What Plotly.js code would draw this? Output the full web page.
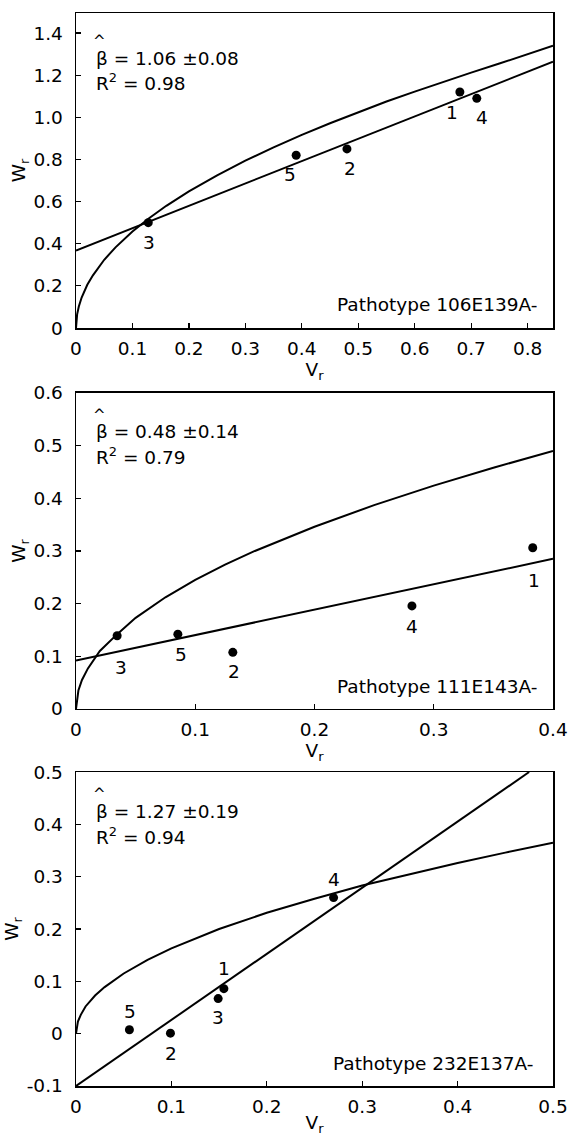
<!DOCTYPE html>
<html>
<head>
<meta charset="utf-8">
<script src="https://cdn.plot.ly/plotly-3.0.1.min.js"></script>
<style>html,body{margin:0;padding:0;background:#fff;}#chart{width:571px;height:1137px;}</style>
</head>
<body>
<div id="chart"></div>
<script>
// ---------- Panel 1: Pathotype 106E139A- ----------
const p1Labels = ['1', '2', '3', '4', '5'];
const p1V = [0.68, 0.48, 0.128, 0.71, 0.39];
const p1W = [1.12, 0.85, 0.50, 1.09, 0.82];
const p1LineV = [0, 0.845];
const p1LineW = [0.368, 1.264];
const p1CurveV = [0, 0.002, 0.005, 0.01, 0.02, 0.03, 0.05, 0.07, 0.1, 0.13, 0.16, 0.2, 0.25, 0.3, 0.35, 0.4, 0.45, 0.5, 0.55, 0.6, 0.65, 0.7, 0.75, 0.8, 0.845];
const p1CurveW = [0, 0.065, 0.102, 0.145, 0.205, 0.25, 0.324, 0.383, 0.458, 0.522, 0.58, 0.648, 0.725, 0.794, 0.857, 0.917, 0.972, 1.025, 1.075, 1.122, 1.168, 1.212, 1.255, 1.298, 1.34];
const p1Beta = '1.06 ±0.08';
const p1R2 = '0.98';
const p1Name = 'Pathotype 106E139A-';
const p1XTicks = [0, 0.1, 0.2, 0.3, 0.4, 0.5, 0.6, 0.7, 0.8];
const p1XText = ['0', '0.1', '0.2', '0.3', '0.4', '0.5', '0.6', '0.7', '0.8'];
const p1YTicks = [0, 0.2, 0.4, 0.6, 0.8, 1.0, 1.2, 1.4];
const p1YText = ['0', '0.2', '0.4', '0.6', '0.8', '1.0', '1.2', '1.4'];

// ---------- Panel 2: Pathotype 111E143A- ----------
const p2Labels = ['1', '2', '3', '4', '5'];
const p2V = [0.383, 0.1315, 0.0345, 0.2817, 0.0854];
const p2W = [0.306, 0.1075, 0.139, 0.1956, 0.142];
const p2LineV = [0, 0.4];
const p2LineW = [0.092, 0.285];
const p2CurveV = [0, 0.002, 0.005, 0.01, 0.02, 0.035, 0.05, 0.075, 0.1, 0.125, 0.15, 0.2, 0.25, 0.3, 0.35, 0.4];
const p2CurveW = [0, 0.035, 0.055, 0.077, 0.11, 0.143, 0.173, 0.212, 0.245, 0.274, 0.30, 0.346, 0.387, 0.424, 0.458, 0.49];
const p2Beta = '0.48 ±0.14';
const p2R2 = '0.79';
const p2Name = 'Pathotype 111E143A-';
const p2XTicks = [0, 0.1, 0.2, 0.3, 0.4];
const p2XText = ['0', '0.1', '0.2', '0.3', '0.4'];
const p2YTicks = [0, 0.1, 0.2, 0.3, 0.4, 0.5, 0.6];
const p2YText = ['0', '0.1', '0.2', '0.3', '0.4', '0.5', '0.6'];

// ---------- Panel 3: Pathotype 232E137A- ----------
const p3Labels = ['1', '2', '3', '4', '5'];
const p3V = [0.155, 0.099, 0.149, 0.27, 0.056];
const p3W = [0.086, 0.001, 0.067, 0.26, 0.0075];
const p3LineV = [0, 0.475];
const p3LineW = [-0.1, 0.5];
const p3CurveV = [0, 0.002, 0.005, 0.01, 0.02, 0.03, 0.05, 0.075, 0.1, 0.125, 0.15, 0.2, 0.25, 0.3, 0.35, 0.4, 0.45, 0.5];
const p3CurveW = [0, 0.023, 0.036, 0.052, 0.073, 0.089, 0.115, 0.141, 0.163, 0.182, 0.20, 0.231, 0.258, 0.283, 0.305, 0.326, 0.346, 0.365];
const p3Beta = '1.27 ±0.19';
const p3R2 = '0.94';
const p3Name = 'Pathotype 232E137A-';
const p3XTicks = [0, 0.1, 0.2, 0.3, 0.4, 0.5];
const p3XText = ['0', '0.1', '0.2', '0.3', '0.4', '0.5'];
const p3YTicks = [-0.1, 0, 0.1, 0.2, 0.3, 0.4, 0.5];
const p3YText = ['-0.1', '0', '0.1', '0.2', '0.3', '0.4', '0.5'];

// ---------- styling (pixels) ----------
const FONT = 'DejaVu Sans, Arial, sans-serif';
const FS = 18.5;
const p1Shift = [[-8, -20], [3, -20], [1, -20], [5, -19], [-6, -19]];
const p2Shift = [[1, -33], [1, -19], [4, -32], [0, -21], [3, -20]];
const p3Shift = [[0, 20], [1, -20], [0, -19], [0, 18], [1, 18]];

const panels = [
  {V: p1V, W: p1W, L: p1Labels, lV: p1LineV, lW: p1LineW, cV: p1CurveV, cW: p1CurveW, beta: p1Beta, r2: p1R2, name: p1Name,
   xt: p1XTicks, xtt: p1XText, yt: p1YTicks, ytt: p1YText, xr: [0, 0.845], yr: [0, 1.495], dom: [0.7064, 1], shift: p1Shift,
   betaY: 0.857, r2Y: 0.781, hatY: 0.912, nameY: 0.076, nameX: 0.971},
  {V: p2V, W: p2W, L: p2Labels, lV: p2LineV, lW: p2LineW, cV: p2CurveV, cW: p2CurveW, beta: p2Beta, r2: p2R2, name: p2Name,
   xt: p2XTicks, xtt: p2XText, yt: p2YTicks, ytt: p2YText, xr: [0, 0.4], yr: [0, 0.6], dom: [0.3514, 0.6459], shift: p2Shift,
   betaY: 0.877, r2Y: 0.80, hatY: 0.931, nameY: 0.07, nameX: 0.971},
  {V: p3V, W: p3W, L: p3Labels, lV: p3LineV, lW: p3LineW, cV: p3CurveV, cW: p3CurveW, beta: p3Beta, r2: p3R2, name: p3Name,
   xt: p3XTicks, xtt: p3XText, yt: p3YTicks, ytt: p3YText, xr: [0, 0.5], yr: [-0.1, 0.5], dom: [0, 0.2926], shift: p3Shift,
   betaY: 0.873, r2Y: 0.796, hatY: 0.929, nameY: 0.073, nameX: 0.962}
];

const traces = [];
const annotations = [];
const layout = {
  width: 571, height: 1137,
  margin: {l: 76, r: 18, t: 13, b: 51},
  paper_bgcolor: '#fff', plot_bgcolor: '#fff',
  showlegend: false,
  font: {family: FONT, size: FS, color: '#000'},
  annotations: annotations
};

panels.forEach((p, i) => {
  const n = i + 1;
  const xa = n === 1 ? 'x' : 'x' + n;
  const ya = n === 1 ? 'y' : 'y' + n;
  traces.push({x: p.cV, y: p.cW, xaxis: xa, yaxis: ya, mode: 'lines', type: 'scatter',
    line: {color: '#000', width: 2}, hoverinfo: 'skip'});
  traces.push({x: p.lV, y: p.lW, xaxis: xa, yaxis: ya, mode: 'lines', type: 'scatter',
    line: {color: '#000', width: 2}, hoverinfo: 'skip'});
  traces.push({x: p.V, y: p.W, xaxis: xa, yaxis: ya, mode: 'markers', type: 'scatter',
    marker: {color: '#000', size: 9}, cliponaxis: true});

  const axBase = {
    showline: true, linewidth: 1.5, linecolor: '#000', mirror: true,
    ticks: 'inside', ticklen: 5, tickwidth: 1.2, tickcolor: '#000',
    showgrid: false, zeroline: false, tickmode: 'array',
    tickfont: {family: FONT, size: FS, color: '#000'}, fixedrange: true
  };
  layout['xaxis' + (n === 1 ? '' : n)] = Object.assign({}, axBase, {
    domain: [0, 1], range: p.xr, anchor: ya, tickvals: p.xt, ticktext: p.xtt,
    ticklabelstandoff: 3,
    title: {text: 'V<sub>r</sub>', font: {family: FONT, size: FS, color: '#000'}, standoff: 0}
  });
  layout['yaxis' + (n === 1 ? '' : n)] = Object.assign({}, axBase, {
    domain: p.dom, range: p.yr, anchor: xa, tickvals: p.yt, ticktext: p.ytt,
    ticklabelstandoff: 8,
    title: {text: 'W<sub>r</sub>', font: {family: FONT, size: FS, color: '#000'}, standoff: 3}
  });

  // point number labels
  p.L.forEach((lab, k) => {
    annotations.push({x: p.V[k], y: p.W[k], xref: xa, yref: ya, text: lab, showarrow: false,
      xanchor: 'center', yanchor: 'middle', xshift: p.shift[k][0], yshift: p.shift[k][1],
      font: {family: FONT, size: FS, color: '#000'}});
  });
  // statistics
  annotations.push({x: 0.038, y: p.betaY, xref: xa + ' domain', yref: ya + ' domain', text: 'β = ' + p.beta,
    showarrow: false, xanchor: 'left', yanchor: 'middle', font: {family: FONT, size: FS, color: '#000'}});
  annotations.push({x: 0.049, y: p.hatY, xref: xa + ' domain', yref: ya + ' domain', text: '^',
    showarrow: false, xanchor: 'center', yanchor: 'middle', font: {family: FONT, size: 15, color: '#000'}});
  annotations.push({x: 0.038, y: p.r2Y, xref: xa + ' domain', yref: ya + ' domain', text: 'R<sup>2</sup> = ' + p.r2,
    showarrow: false, xanchor: 'left', yanchor: 'middle', font: {family: FONT, size: FS, color: '#000'}});
  annotations.push({x: p.nameX, y: p.nameY, xref: xa + ' domain', yref: ya + ' domain', text: p.name,
    showarrow: false, xanchor: 'right', yanchor: 'middle', font: {family: FONT, size: FS, color: '#000'}});
});

Plotly.newPlot('chart', traces, layout, {staticPlot: true, displayModeBar: false});
</script>
</body>
</html>
